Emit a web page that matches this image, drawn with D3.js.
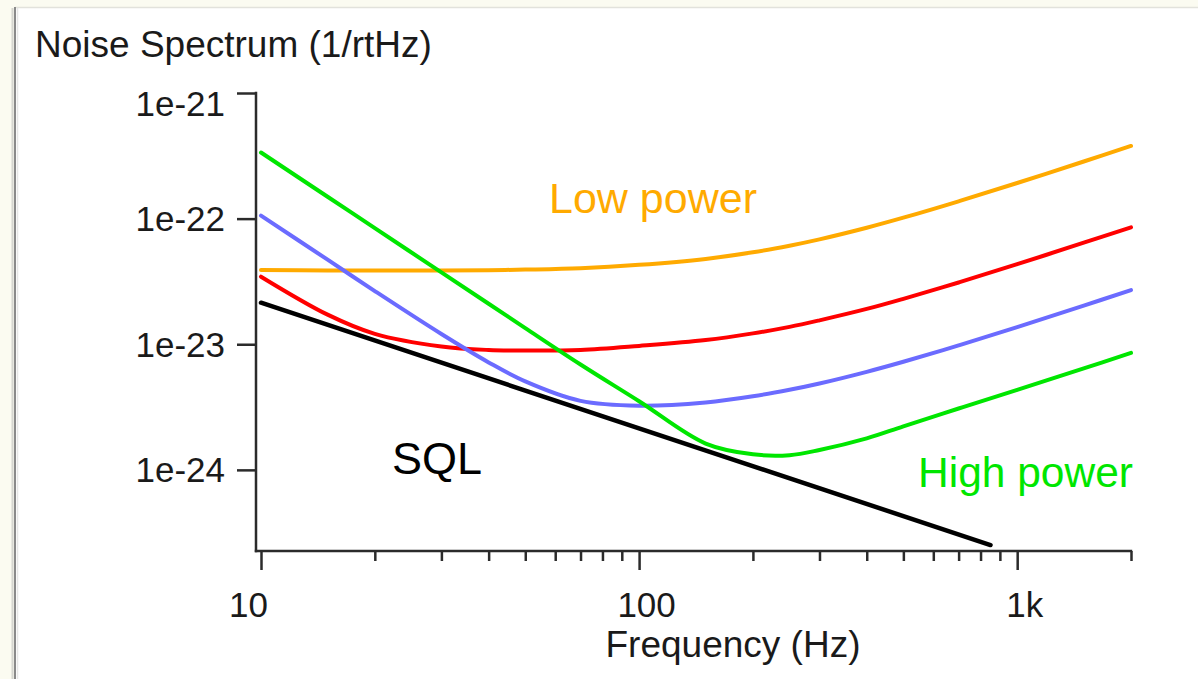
<!DOCTYPE html>
<html>
<head>
<meta charset="utf-8">
<script src="https://cdn.jsdelivr.net/npm/d3@7"></script>
<style>
  html, body { margin: 0; padding: 0; background: #fbfbf1; }
  svg { display: block; }
  text { font-family: "Liberation Sans", Arial, Helvetica, sans-serif; }
</style>
</head>
<body>
<svg id="chart" width="1198" height="679"></svg>
<script>
// frequencies (Hz) the noise curves are sampled at
var freqs = [10, 15, 20, 30, 40, 50, 70, 100, 150, 200, 250, 300, 400, 500, 700, 1000, 1500, 2000];

// strain noise (1/rtHz) for each laser power
var lowPower = [3.9e-23, 3.86e-23, 3.86e-23, 3.87e-23, 3.89e-23, 3.93e-23, 4.03e-23, 4.29e-23,
    4.78e-23, 5.39e-23, 6.09e-23, 6.84e-23, 8.46e-23, 1.017e-22, 1.373e-22, 1.922e-22, 2.85e-22, 3.79e-22];
var midPower = [3.45e-23, 1.72e-23, 1.21e-23, 9.6e-24, 9.0e-24, 8.9e-24, 9.0e-24, 9.7e-24,
    1.08e-23, 1.22e-23, 1.374e-23, 1.55e-23, 1.91e-23, 2.3e-23, 3.1e-23, 4.34e-23, 6.43e-23, 8.53e-23];
var upperPower = [1.057e-22, 4.71e-23, 2.65e-23, 1.206e-23, 7.17e-24, 5.06e-24, 3.54e-24, 3.24e-24,
    3.44e-24, 3.85e-24, 4.34e-24, 4.87e-24, 6.03e-24, 7.25e-24, 9.78e-24, 1.37e-23, 2.03e-23, 2.7e-23];
var highPower = [3.36e-22, 1.493e-22, 8.4e-23, 3.73e-23, 2.1e-23, 1.344e-23, 6.9e-24, 3.52e-24,
    1.62e-24, 1.33e-24, 1.31e-24, 1.44e-24, 1.78e-24, 2.22e-24, 3.08e-24, 4.33e-24, 6.42e-24, 8.53e-24];

// standard quantum limit
var sqlFreqs = [10, 850];
var sqlValues = [2.14e-23, 2.52e-25];

var xMajorTicks = [10, 100, 1000];
var xMajorLabels = ["10", "100", "1k"];
var xMinorTicks = [20, 30, 40, 50, 60, 70, 80, 90, 200, 300, 400, 500, 600, 700, 800, 900, 2000];
var yTicks = [1e-21, 1e-22, 1e-23, 1e-24];
var yTickLabels = ["1e-21", "1e-22", "1e-23", "1e-24"];

var svg = d3.select("#chart");
var W = 1198, H = 679;

// slide frame
svg.append("rect").attr("x", 0).attr("y", 0).attr("width", W).attr("height", H).attr("fill", "#fbfbf1");
svg.append("rect").attr("x", 16).attr("y", 8).attr("width", W - 16).attr("height", H - 8).attr("fill", "#ffffff");
svg.append("line").attr("x1", 15).attr("x2", W).attr("y1", 7.5).attr("y2", 7.5)
    .attr("stroke", "#e2e2dc").attr("stroke-width", 1.5);
svg.append("line").attr("x1", 12.5).attr("x2", 12.5).attr("y1", 8).attr("y2", H)
    .attr("stroke", "#d6d6d0").attr("stroke-width", 2);
svg.append("line").attr("x1", 15).attr("x2", 15).attr("y1", 7).attr("y2", H)
    .attr("stroke", "#8a8a8a").attr("stroke-width", 2);
svg.append("line").attr("x1", 17.5).attr("x2", 17.5).attr("y1", 8).attr("y2", H)
    .attr("stroke", "#e6e6e6").attr("stroke-width", 1.5);

var x = d3.scaleLog().domain([10, 2000]).range([261, 1131]);
var y = d3.scaleLog().domain([2.26e-25, 1e-21]).range([551, 93]);
var axisX = x(10) - 5;
var axisY = y.range()[0];
var axisColor = "#2b2b2b";

// title
svg.append("text")
    .attr("x", 35).attr("y", 57)
    .attr("font-size", 37)
    .attr("fill", "#1a1a1a")
    .text("Noise Spectrum (1/rtHz)");

// y axis
var yAxis = d3.axisLeft(y)
    .tickValues(yTicks)
    .tickSize(19)
    .tickPadding(12)
    .tickSizeOuter(0)
    .tickFormat(function (d, i) { return yTickLabels[i]; });
var gy = svg.append("g")
    .attr("transform", "translate(" + axisX + ",0)")
    .call(yAxis);
gy.select(".domain").remove();
gy.selectAll(".tick line").attr("stroke", axisColor).attr("stroke-width", 2.5);
gy.selectAll(".tick text")
    .attr("font-size", 35)
    .attr("font-family", "Liberation Sans, Arial, sans-serif")
    .attr("fill", "#1a1a1a")
    .attr("dy", function (d, i) { return i === 0 ? "0.65em" : "0.34em"; });
gy.append("line")
    .attr("x1", 0).attr("x2", 0)
    .attr("y1", y(1e-21) - 1.2).attr("y2", axisY + 1.2)
    .attr("stroke", axisColor).attr("stroke-width", 2.5);

// x axis: minor then major ticks
var gxMinor = svg.append("g")
    .attr("transform", "translate(0," + axisY + ")")
    .call(d3.axisBottom(x).tickValues(xMinorTicks).tickSize(10).tickSizeOuter(0).tickFormat(""));
gxMinor.select(".domain").remove();
gxMinor.selectAll(".tick line").attr("stroke", axisColor).attr("stroke-width", 2.5);

var gx = svg.append("g")
    .attr("transform", "translate(0," + axisY + ")")
    .call(d3.axisBottom(x)
        .tickValues(xMajorTicks)
        .tickSize(19)
        .tickPadding(22)
        .tickSizeOuter(0)
        .tickFormat(function (d, i) { return xMajorLabels[i]; }));
gx.select(".domain").remove();
gx.selectAll(".tick line").attr("stroke", axisColor).attr("stroke-width", 2.5);
gx.selectAll(".tick text")
    .attr("font-size", 35)
    .attr("font-family", "Liberation Sans, Arial, sans-serif")
    .attr("fill", "#1a1a1a")
    .attr("dx", function (d, i) { return i === 0 ? -13 : 7; });
gx.append("line")
    .attr("x1", axisX - 1.2).attr("x2", x(2000) + 1.2)
    .attr("y1", 0).attr("y2", 0)
    .attr("stroke", axisColor).attr("stroke-width", 2.5);

svg.append("text")
    .attr("x", 733).attr("y", 657)
    .attr("text-anchor", "middle")
    .attr("font-size", 37)
    .attr("fill", "#1a1a1a")
    .text("Frequency (Hz)");

// noise curves
var series = [
    { values: lowPower, color: "#ffaa00" },
    { values: midPower, color: "#ff0000" },
    { values: upperPower, color: "#6b6bff" },
    { values: highPower, color: "#00e600" }
];

var line = d3.line()
    .x(function (d) { return x(d[0]); })
    .y(function (d) { return y(d[1]); })
    .curve(d3.curveCatmullRom.alpha(0.5));

svg.append("path")
    .datum(d3.zip(sqlFreqs, sqlValues))
    .attr("fill", "none")
    .attr("stroke", "#000000")
    .attr("stroke-width", 4.5)
    .attr("stroke-linecap", "round")
    .attr("d", line);

svg.selectAll(".curve")
    .data(series)
    .enter().append("path")
    .attr("class", "curve")
    .attr("fill", "none")
    .attr("stroke", function (d) { return d.color; })
    .attr("stroke-width", 4)
    .attr("stroke-linecap", "round")
    .attr("d", function (d) { return line(d3.zip(freqs, d.values)); });

// annotations
svg.append("text")
    .attr("x", 549).attr("y", 213)
    .attr("font-size", 43)
    .attr("fill", "#ffaa00")
    .text("Low power");
svg.append("text")
    .attr("x", 918).attr("y", 487)
    .attr("font-size", 42.5)
    .attr("fill", "#00e600")
    .text("High power");
svg.append("text")
    .attr("x", 392).attr("y", 474)
    .attr("font-size", 45)
    .attr("fill", "#000000")
    .text("SQL");
</script>
</body>
</html>
